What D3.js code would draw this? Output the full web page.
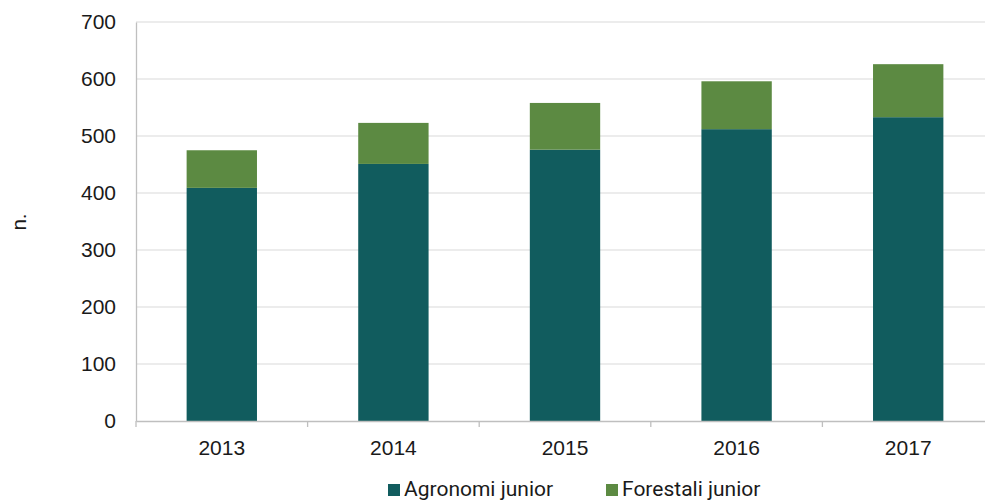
<!DOCTYPE html>
<html>
<head>
<meta charset="utf-8">
<script src="https://cdn.jsdelivr.net/npm/d3@7"></script>
<style>
  html, body { margin: 0; padding: 0; background: #fff; }
  svg { display: block; font-family: Roboto, "Noto Sans", sans-serif; }
</style>
</head>
<body>
<svg id="chart" width="985" height="501"></svg>
<script>
// Stacked bars: junior agronomists and foresters per year
const years = ["2013", "2014", "2015", "2016", "2017"];
const agronomi = [409, 451, 476, 512, 533];
const forestali = [66, 72, 82, 84, 93];
const seriesNames = ["Agronomi junior", "Forestali junior"];
const seriesColors = ["#115c5e", "#5c8a42"];
const yTicks = [0, 100, 200, 300, 400, 500, 600, 700];

const svg = d3.select("#chart");
const margin = { left: 136, right: 994, top: 22, bottom: 421 };
const fontSize = 21;

const x = d3.scaleBand().domain(years).range([margin.left, margin.right]).paddingInner(0.59).paddingOuter(0.295);
const band = d3.scaleBand().domain(years).range([margin.left, margin.right]);
const y = d3.scaleLinear().domain([0, 700]).range([margin.bottom, margin.top]);

// Gridlines
svg.append("g")
  .selectAll("line")
  .data(yTicks.filter(d => d > 0))
  .join("line")
  .attr("x1", margin.left).attr("x2", margin.right)
  .attr("y1", d => y(d)).attr("y2", d => y(d))
  .attr("stroke", "#d9d9d9").attr("stroke-width", 1.2);

// Stacked data
const rows = years.map((yr, i) => ({ year: yr, a: agronomi[i], f: forestali[i] }));
const stack = d3.stack().keys(["a", "f"])(rows);

svg.append("g")
  .selectAll("g")
  .data(stack)
  .join("g")
  .attr("fill", (d, i) => seriesColors[i])
  .selectAll("rect")
  .data(d => d)
  .join("rect")
  .attr("x", d => x(d.data.year))
  .attr("width", x.bandwidth())
  .attr("y", d => y(d[1]))
  .attr("height", d => y(d[0]) - y(d[1]));

// Y axis
const yAxis = svg.append("g")
  .attr("transform", `translate(${margin.left},0)`)
  .call(d3.axisLeft(y).tickValues(yTicks).tickSize(0).tickPadding(20));
yAxis.select(".domain").attr("stroke", "#bfbfbf").attr("stroke-width", 1.3);
yAxis.selectAll("text").attr("font-size", fontSize).attr("fill", "#1a1a1a");

// X axis
const xAxis = svg.append("g")
  .attr("transform", `translate(0,${margin.bottom})`)
  .call(d3.axisBottom(x).tickSize(0).tickPadding(19));
xAxis.select(".domain").attr("stroke", "#bfbfbf").attr("stroke-width", 1.3);
xAxis.selectAll("text").attr("font-size", fontSize).attr("fill", "#1a1a1a");

// Category boundary ticks
svg.append("g")
  .selectAll("line")
  .data(years.concat(["end"]))
  .join("line")
  .attr("x1", (d, i) => i < years.length ? band(d) : margin.right)
  .attr("x2", (d, i) => i < years.length ? band(d) : margin.right)
  .attr("y1", margin.bottom).attr("y2", margin.bottom + 6)
  .attr("stroke", "#bfbfbf").attr("stroke-width", 1.3);

// Y title
svg.append("text")
  .attr("transform", "translate(26,222) rotate(-90)")
  .attr("text-anchor", "middle")
  .attr("font-size", fontSize)
  .attr("fill", "#1a1a1a")
  .text("n.");

// Legend
const legendX = [388, 606];
const legend = svg.append("g");
seriesNames.forEach((name, i) => {
  legend.append("rect")
    .attr("x", legendX[i]).attr("y", 484)
    .attr("width", 12).attr("height", 12)
    .attr("fill", seriesColors[i]);
  legend.append("text")
    .attr("x", legendX[i] + 16).attr("y", 496)
    .attr("font-size", fontSize)
    .attr("fill", "#1a1a1a")
    .text(name);
});
</script>
</body>
</html>
